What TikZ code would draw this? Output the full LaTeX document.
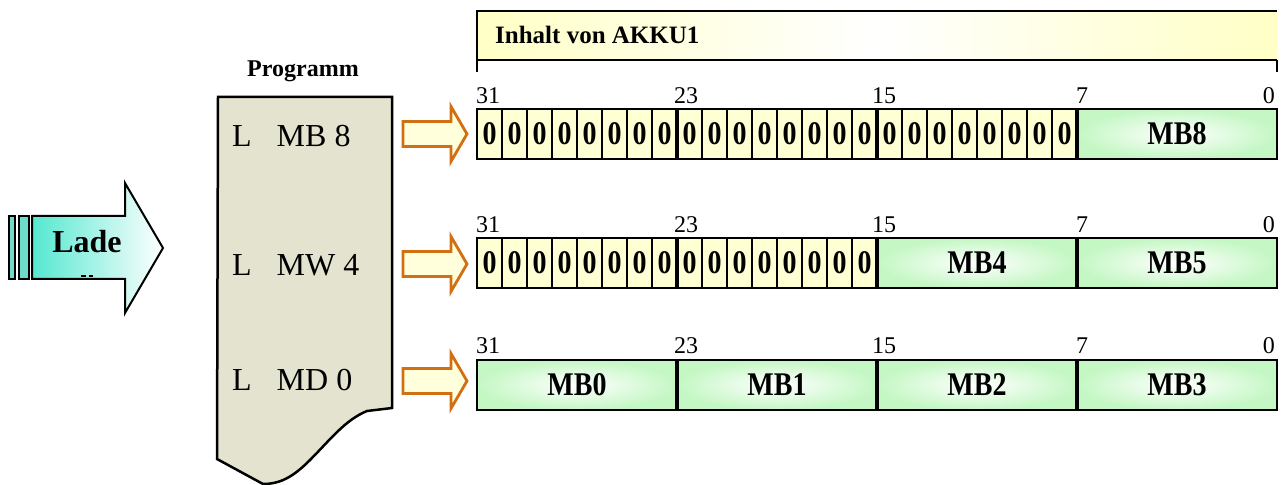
\documentclass[tikz,border=0pt]{standalone}
\usepackage{fontspec}
\usepackage{graphicx}
\setmainfont{Liberation Serif}
\usetikzlibrary{calc}

\definecolor{progfill}{HTML}{E4E3D0}
\definecolor{zerofill}{HTML}{FFFFD4}
\definecolor{bytegreen}{HTML}{C4F7C4}
\definecolor{ladeteal}{HTML}{55E8D0}
\definecolor{barteal}{HTML}{6FDCCB}
\definecolor{arroworange}{HTML}{D26F12}
\definecolor{arrowfill}{HTML}{FFFFDC}
\definecolor{titleyellow}{HTML}{FFFFC6}

% tall bold cell labels
\newcommand{\celltext}[1]{\scalebox{1}[1.18]{\bfseries #1}}

\tikzset{
  zcell/.style={draw, line width=2.5bp, fill=zerofill, minimum width=25bp,
    minimum height=50bp, inner sep=0pt, outer sep=0pt,
    font=\fontsize{28bp}{30bp}\selectfont},
  bytebox/.style={draw, line width=2.5bp, shading=radial, inner color=white,
    outer color=bytegreen, minimum height=50bp, inner sep=0pt, outer sep=0pt,
    font=\fontsize{28bp}{30bp}\selectfont},
  bitnum/.style={inner sep=0pt, font=\fontsize{24bp}{26bp}\selectfont},
  progtext/.style={inner sep=0pt, anchor=base west,
    font=\fontsize{32bp}{34bp}\selectfont},
  sep/.style={line width=4.5bp},
  loadarrow/.style={draw=arroworange, line width=2.8bp, fill=arrowfill,
    line join=miter},
}

% orange block arrow centred vertically at #1
\newcommand{\loadarrowat}[1]{%
  \path[loadarrow] (403,#1-12.5) -- (451,#1-12.5) -- (451,#1-27.5)
    -- (467,#1) -- (451,#1+27.5) -- (451,#1+12.5) -- (403,#1+12.5) -- cycle;}

\begin{document}
\begin{tikzpicture}[x=1bp, y=-1bp]
\useasboundingbox (0,0) rectangle (1282,485);

% ---- "Lade" block arrow ----
\path[draw, line width=2bp, fill=barteal] (9,216) rectangle (15,279);
\path[draw, line width=2bp, fill=barteal] (19,216) rectangle (29,279);
\path[draw, line width=2bp, left color=ladeteal, right color=white,
      line join=miter]
  (32,216) -- (125,216) -- (125,183) -- (163,248) -- (125,313) -- (125,279)
  -- (32,279) -- cycle;
\node[inner sep=0pt, font=\fontsize{32bp}{34bp}\selectfont\bfseries]
  (lade) at (87,242) {Lade};
\draw[line width=2bp] (81,276) -- (86,276) (89,276) -- (93,276);

% ---- program listing ----
\node[font=\fontsize{24bp}{26bp}\selectfont\bfseries, inner sep=0pt]
  (progtitle) at (303,71) {Programm};
\path[draw, line width=2.5bp, fill=progfill, line join=miter]
  (218,97) -- (392,97) -- (392,408) -- (367,411)
  .. controls (345,420) and (330,440) .. (310,460)
  .. controls (295,475) and (282,484) .. (263,484)
  -- (217,459) -- cycle;
\node[progtext] (cmd1) at (232,147) {L\hspace{25bp}MB 8};
\node[progtext] (cmd2) at (232,276) {L\hspace{25bp}MW 4};
\node[progtext] (cmd3) at (232,390) {L\hspace{25bp}MD 0};

% ---- load arrows ----
\loadarrowat{134}
\loadarrowat{264}
\loadarrowat{381}

% ---- title bar ----
\path[left color=titleyellow, right color=titleyellow, middle color=white]
  (477,11) rectangle (1277,60);
\draw[line width=2.5bp] (477,11) -- (1277,11);
\draw[line width=2.5bp] (477,60) -- (1277,60);
\draw[line width=2.5bp] (477,10) -- (477,72);
\draw[line width=2.5bp] (1277,60) -- (1277,72);
\node[anchor=base west, inner sep=0pt,
      font=\fontsize{25bp}{27bp}\selectfont\bfseries]
  (title) at (495,44) {Inhalt von AKKU1};

% ---- register row 1: L MB 8 ----
\foreach \i in {0,...,23}
  \node[zcell] (ra\i) at ({489.5+25*\i},134) {\celltext{0}};
\node[bytebox, minimum width=200bp] (raB) at (1177,134) {\celltext{MB8}};
\draw[sep] (ra7.north east) -- (ra7.south east);
\draw[sep] (ra15.north east) -- (ra15.south east);
\draw[sep] (ra23.north east) -- (ra23.south east);
\node[bitnum, anchor=base west] (na31) at (476,104) {31};
\node[bitnum, anchor=base west] (na23) at (674,104) {23};
\node[bitnum, anchor=base west] (na15) at (872,104) {15};
\node[bitnum, anchor=base west] (na7)  at (1076,104) {7};
\node[bitnum, anchor=base east] (na0)  at (1275,104) {0};

% ---- register row 2: L MW 4 ----
\foreach \i in {0,...,15}
  \node[zcell] (rb\i) at ({489.5+25*\i},263) {\celltext{0}};
\node[bytebox, minimum width=200bp] (rbB1) at (977,263) {\celltext{MB4}};
\node[bytebox, minimum width=200bp] (rbB0) at (1177,263) {\celltext{MB5}};
\draw[sep] (rb7.north east) -- (rb7.south east);
\draw[sep] (rb15.north east) -- (rb15.south east);
\draw[sep] (rbB1.north east) -- (rbB1.south east);
\node[bitnum, anchor=base west] (nb31) at (476,233) {31};
\node[bitnum, anchor=base west] (nb23) at (674,233) {23};
\node[bitnum, anchor=base west] (nb15) at (872,233) {15};
\node[bitnum, anchor=base west] (nb7)  at (1076,233) {7};
\node[bitnum, anchor=base east] (nb0)  at (1275,233) {0};

% ---- register row 3: L MD 0 ----
\node[bytebox, minimum width=200bp] (rc3) at (577,385) {\celltext{MB0}};
\node[bytebox, minimum width=200bp] (rc2) at (777,385) {\celltext{MB1}};
\node[bytebox, minimum width=200bp] (rc1) at (977,385) {\celltext{MB2}};
\node[bytebox, minimum width=200bp] (rc0) at (1177,385) {\celltext{MB3}};
\draw[sep] (rc3.north east) -- (rc3.south east);
\draw[sep] (rc2.north east) -- (rc2.south east);
\draw[sep] (rc1.north east) -- (rc1.south east);
\node[bitnum, anchor=base west] (nc31) at (476,354) {31};
\node[bitnum, anchor=base west] (nc23) at (674,354) {23};
\node[bitnum, anchor=base west] (nc15) at (872,354) {15};
\node[bitnum, anchor=base west] (nc7)  at (1076,354) {7};
\node[bitnum, anchor=base east] (nc0)  at (1275,354) {0};
\end{tikzpicture}
\end{document}
